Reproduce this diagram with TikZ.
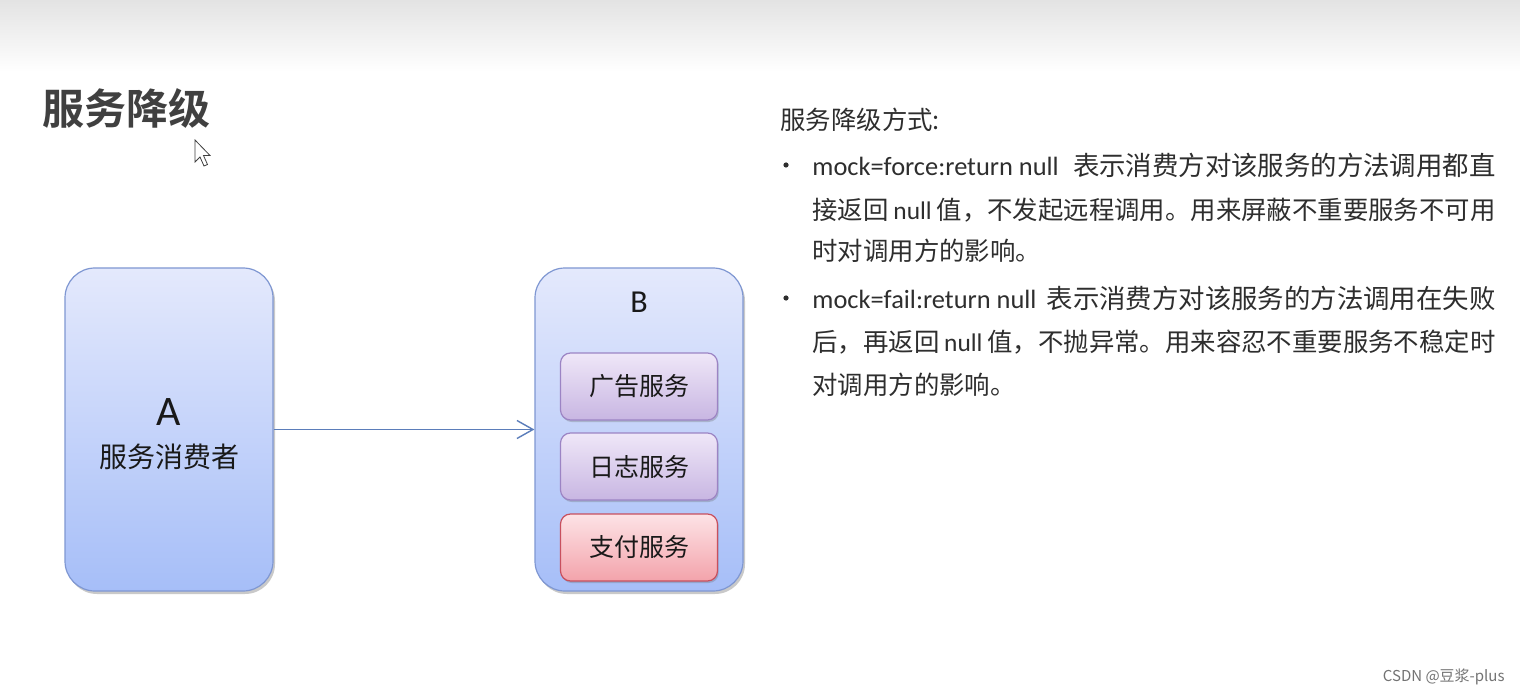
\documentclass[tikz,border=0pt]{standalone}
\usepackage{fontspec}
\setmainfont{Carlito}
\newfontfamily\cjk{Noto Sans CJK SC}[BoldFont={Noto Sans CJK SC Bold}]
\usetikzlibrary{arrows.meta,shadows}
\definecolor{bandgray}{HTML}{E3E3E3}
\definecolor{titlegray}{HTML}{404040}
\definecolor{textgray}{HTML}{2E2E2E}
\definecolor{boxtop}{HTML}{E4E9FC}
\definecolor{boxbot}{HTML}{A6BEF8}
\definecolor{boxedge}{HTML}{7F97D2}
\definecolor{svctop}{HTML}{EFE7F8}
\definecolor{svcbot}{HTML}{C8B6E2}
\definecolor{svcedge}{HTML}{9C84C4}
\definecolor{paytop}{HTML}{FDE3E6}
\definecolor{paybot}{HTML}{F3A3AB}
\definecolor{payedge}{HTML}{C8505E}
\definecolor{linkblue}{HTML}{5B7DBA}
\tikzstyle{bigbox}=[rectangle, rounded corners=15pt, minimum width=104pt, minimum height=161.5pt, top color=boxtop, bottom color=boxbot, draw=boxedge, line width=0.6pt, drop shadow={shadow xshift=1pt, shadow yshift=-1.5pt, opacity=0.35, fill=black!60}]
\tikzstyle{svcbox}=[rectangle, rounded corners=5pt, minimum width=78.5pt, minimum height=33.5pt, line width=0.6pt, font=\cjk\fontsize{12.5}{15}\selectfont, text=black!90, drop shadow={shadow xshift=0.6pt, shadow yshift=-1pt, opacity=0.3, fill=black!60}]
\tikzstyle{txt}=[anchor=west, inner sep=0, text=textgray, font=\fontsize{12.7}{15}\selectfont]
\tikzstyle{dot}=[circle, fill=textgray, inner sep=0, minimum size=2.6pt]
\tikzstyle{link}=[linkblue, line width=0.7pt, -{Straight Barb[length=8pt, width=9pt]}]
\newcommand{\fullline}[1]{\hbox to 341.5pt{#1}}

\begin{document}
\begin{tikzpicture}[x=0.5pt, y=-0.5pt]
\useasboundingbox (0,0) rectangle (1520,695);
\fill[white] (0,0) rectangle (1520,695);
\shade[top color=bandgray, bottom color=white] (0,0) rectangle (1520,72);
\node[anchor=west, inner sep=0, text=titlegray, font=\cjk\bfseries\fontsize{21}{25}\selectfont] (title) at (42,108) {服务降级};
% mouse pointer
\filldraw[fill=white, draw=black!75, line width=0.4pt] (195,140) -- (195,162) -- (200,157) -- (204,166) -- (207.5,164.5) -- (203.5,155.5) -- (210,155.5) -- cycle;

% consumer and provider
\node[bigbox] (a) at (169,429.5) {};
\node[font=\fontsize{21}{25}\selectfont, text=black!90] (aletter) at (169,412) {A};
\node[font=\cjk\fontsize{14}{17}\selectfont, text=black!90] (aname) at (169,457) {服务消费者};
\node[bigbox] (b) at (639,429.5) {};
\node[font=\fontsize{16}{19}\selectfont, text=black!90] (bletter) at (639,302) {B};
\foreach \y/\n/\t/\c in {386.5/ad/广告服务/svc, 466.5/log/日志服务/svc, 547.5/pay/支付服务/pay}
  {\node[svcbox, top color=\c top, bottom color=\c bot, draw=\c edge] (\n) at (639,\y) {\t};}
\draw[link] (a) -- (b);

% degrade modes
\node[txt] (head) at (780,120) {\cjk 服务降级方式:};
\foreach \y in {165,298}{\node[dot] (dot\y) at (786,\y) {};}
\node[txt] (l1) at (812,165) {\fullline{\fontsize{13.2}{15}\selectfont mock=force:return null\hfill{\cjk 表示消费方对该服务的方法调用都直}}};
\node[txt] (l2) at (812,210) {\fullline{{\cjk 接返回} null {\cjk 值，不发起远程调用。用来屏蔽不重要服务不可用}\hfil}};
\node[txt] (l3) at (812,251) {\cjk 时对调用方的影响。};
\node[txt] (l4) at (812,298) {\fullline{\fontsize{13.2}{15}\selectfont mock=fail:return null\hfill{\cjk 表示消费方对该服务的方法调用在失败}}};
\node[txt] (l5) at (812,342) {\fullline{{\cjk 后，再返回} null {\cjk 值，不抛异常。用来容忍不重要服务不稳定时}\hfil}};
\node[txt] (l6) at (812,385) {\cjk 对调用方的影响。};

\node[anchor=east, inner sep=0, text=black!55, font=\cjk\fontsize{7.5}{9}\selectfont] (mark) at (1505,677) {CSDN @豆浆-plus};
\end{tikzpicture}
\end{document}
